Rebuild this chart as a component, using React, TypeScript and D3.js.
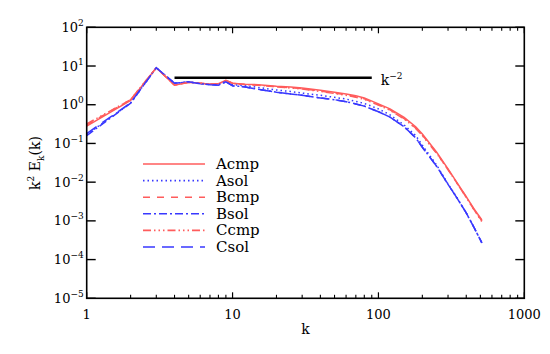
import * as d3 from "d3";

// wavenumbers at which the spectra were read
const kVals = [1, 2, 3, 4, 5, 6, 7, 8, 9, 10, 12, 15, 20, 25, 30, 40, 50, 60, 70, 80, 100, 120, 150, 180, 200, 250, 300, 350, 400, 450, 512];

const acmp = [0.28, 1.3, 9.0, 3.2, 3.8, 3.6, 3.4, 3.5, 4.3, 3.6, 3.4, 3.3, 3.0, 2.85, 2.7, 2.35, 2.1, 1.9, 1.7, 1.5, 1.05, 0.78, 0.47, 0.27, 0.175, 0.06, 0.022, 0.009, 0.0042, 0.0021, 0.00105];
const asol = [0.17, 1.1, 9.0, 3.6, 3.9, 3.5, 3.4, 3.3, 4.0, 3.3, 3.1, 2.8, 2.4, 2.2, 2.0, 1.75, 1.55, 1.4, 1.22, 1.08, 0.78, 0.55, 0.3, 0.16, 0.09, 0.028, 0.009, 0.0037, 0.0016, 0.0007, 0.00027];
const bcmp = [0.3, 1.35, 9.0, 3.2, 3.8, 3.6, 3.4, 3.5, 4.2, 3.6, 3.4, 3.2, 2.9, 2.75, 2.6, 2.25, 2.0, 1.8, 1.6, 1.42, 1.0, 0.74, 0.44, 0.25, 0.165, 0.057, 0.021, 0.0088, 0.0041, 0.002, 0.001];
const bsol = [0.16, 1.1, 9.0, 3.6, 3.9, 3.5, 3.3, 3.2, 3.9, 3.1, 2.9, 2.5, 2.1, 1.9, 1.75, 1.5, 1.35, 1.2, 1.05, 0.92, 0.66, 0.48, 0.27, 0.14, 0.08, 0.026, 0.0088, 0.0036, 0.0016, 0.0007, 0.00027];
const ccmp = [0.32, 1.35, 9.0, 3.2, 3.8, 3.6, 3.4, 3.5, 4.2, 3.6, 3.3, 3.2, 2.9, 2.7, 2.55, 2.2, 1.95, 1.75, 1.55, 1.38, 0.98, 0.72, 0.43, 0.245, 0.16, 0.056, 0.021, 0.0087, 0.004, 0.002, 0.00095];
const csol = [0.18, 1.12, 9.0, 3.6, 3.9, 3.5, 3.3, 3.2, 3.9, 3.1, 2.9, 2.5, 2.1, 1.9, 1.75, 1.5, 1.35, 1.2, 1.05, 0.92, 0.66, 0.48, 0.27, 0.14, 0.08, 0.026, 0.0088, 0.0036, 0.0016, 0.0007, 0.00027];

const seriesNames = ["Acmp", "Asol", "Bcmp", "Bsol", "Ccmp", "Csol"];
const seriesValues = [acmp, asol, bcmp, bsol, ccmp, csol];

// reference slope line k^-2 (compensated: flat)
const refK = [4, 90];
const refVal = [5, 5];

const xTicks = [1, 10, 100, 1000];
const yExps = [-5, -4, -3, -2, -1, 0, 1, 2];

const RED = "#ff5c5c";
const BLUE = "#3838ff";
const STYLES = [
  { color: RED, dash: "" },
  { color: BLUE, dash: "1.5,3" },
  { color: RED, dash: "7,7" },
  { color: BLUE, dash: "8,3,2,3" },
  { color: RED, dash: "8,3,1.5,3,1.5,3,1.5,3" },
  { color: BLUE, dash: "12,7" },
];

const W = 550;
const H = 354;
const M = { left: 86.7, right: 524.3, top: 27.3, bottom: 298.3 };
const FONT = "DejaVu Serif";

export default function App() {
  const x = d3.scaleLog().domain([1, 1000]).range([M.left, M.right]);
  const y = d3.scaleLog().domain([1e-5, 1e2]).range([M.bottom, M.top]);

  const line = d3
    .line<number>()
    .x((_, i) => x(kVals[i]))
    .y((d) => y(d));

  const minorX: number[] = [];
  for (let dec = 1; dec < 1000; dec *= 10) {
    for (let m = 2; m <= 9; m++) minorX.push(dec * m);
  }

  const legendY0 = 164;
  const legendStep = 16.6;

  return (
    <svg width={W} height={H} style={{ position: "absolute", left: 0, top: 0 }} fontFamily={FONT}>
      <rect width={W} height={H} fill="white" />

      {/* curves */}
      {seriesValues.map((vals, i) => (
        <path
          key={seriesNames[i]}
          d={line(vals) || ""}
          fill="none"
          stroke={STYLES[i].color}
          strokeWidth={1.5}
          strokeDasharray={STYLES[i].dash}
        />
      ))}

      {/* k^-2 reference */}
      <line x1={x(refK[0])} x2={x(refK[1])} y1={y(refVal[0])} y2={y(refVal[1])} stroke="black" strokeWidth={2.5} />
      <text x={x(refK[1]) + 9} y={y(refVal[1]) + 7.5} fontSize={14}>
        k<tspan dy={-6} fontSize={9}>−2</tspan>
      </text>

      {/* frame */}
      <rect
        x={M.left}
        y={M.top}
        width={M.right - M.left}
        height={M.bottom - M.top}
        fill="none"
        stroke="black"
        strokeWidth={1.6}
      />

      {/* x ticks */}
      {xTicks.map((t) => (
        <g key={"xt" + t}>
          <line x1={x(t)} x2={x(t)} y1={M.bottom} y2={M.bottom - 6} stroke="black" strokeWidth={1.2} />
          <line x1={x(t)} x2={x(t)} y1={M.top} y2={M.top + 6} stroke="black" strokeWidth={1.2} />
          <text x={x(t)} y={318.5} fontSize={13} textAnchor="middle">
            {t}
          </text>
        </g>
      ))}
      {minorX.map((t) => (
        <g key={"xm" + t}>
          <line x1={x(t)} x2={x(t)} y1={M.bottom} y2={M.bottom - 3.5} stroke="black" strokeWidth={1.1} />
          <line x1={x(t)} x2={x(t)} y1={M.top} y2={M.top + 3.5} stroke="black" strokeWidth={1.1} />
        </g>
      ))}

      {/* y ticks */}
      {yExps.map((e) => {
        const yy = y(Math.pow(10, e));
        return (
          <g key={"yt" + e}>
            <line x1={M.left} x2={M.left + 9} y1={yy} y2={yy} stroke="black" strokeWidth={1.4} />
            <line x1={M.right} x2={M.right - 9} y1={yy} y2={yy} stroke="black" strokeWidth={1.4} />
            <text x={M.left - 3} y={yy + 4.5} fontSize={13} textAnchor="end">
              10<tspan dy={-6} fontSize={9}>{e < 0 ? "−" + -e : e}</tspan>
            </text>
          </g>
        );
      })}

      {/* axis titles */}
      <text x={M.left + (M.right - M.left) / 2} y={334} fontSize={14} textAnchor="middle">
        k
      </text>
      <text transform="translate(40,163) rotate(-90)" fontSize={14} textAnchor="middle">
        k<tspan dy={-6} fontSize={9}>2</tspan>
        <tspan dy={6}> E</tspan>
        <tspan dy={4} fontSize={9}>k</tspan>
        <tspan dy={-4}>(k)</tspan>
      </text>

      {/* legend */}
      {seriesNames.map((name, i) => {
        const ly = legendY0 + i * legendStep;
        return (
          <g key={"lg" + name}>
            <line x1={143} x2={205} y1={ly} y2={ly} stroke={STYLES[i].color} strokeWidth={1.6} strokeDasharray={STYLES[i].dash} />
            <text x={216} y={ly + 5} fontSize={15}>
              {name}
            </text>
          </g>
        );
      })}
    </svg>
  );
}
